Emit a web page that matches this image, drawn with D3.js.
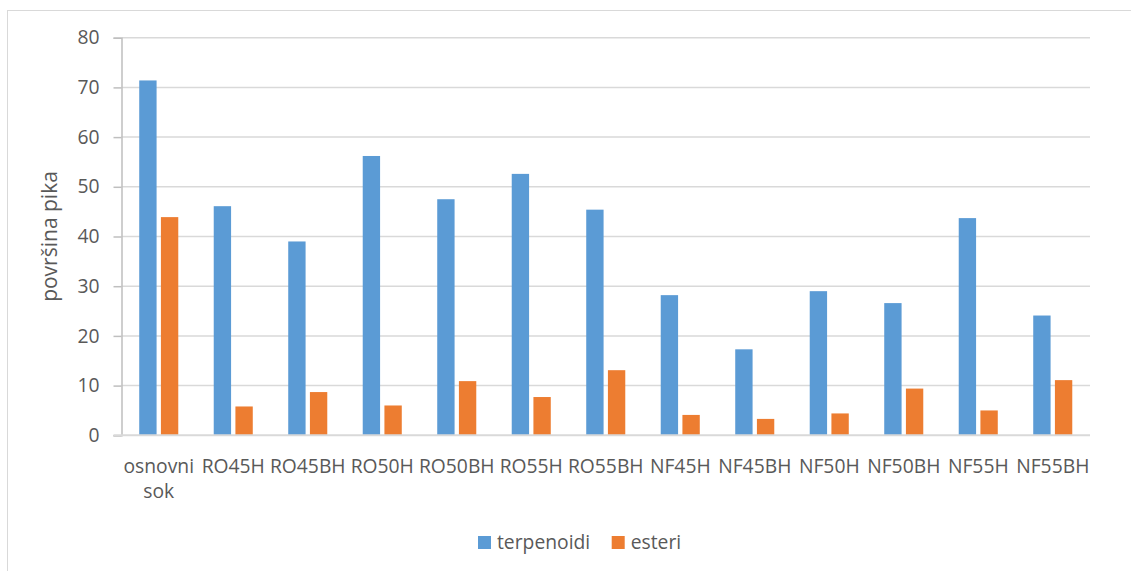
<!DOCTYPE html>
<html>
<head>
<meta charset="utf-8">
<script src="https://cdn.jsdelivr.net/npm/d3@7"></script>
<style>
  html, body { margin: 0; padding: 0; background: #ffffff; }
  svg { display: block; font-family: "Open Sans", "DejaVu Sans", sans-serif; }
</style>
</head>
<body>
<svg id="chart" width="1131" height="571"></svg>
<script>
const categories = ["osnovni sok","RO45H","RO45BH","RO50H","RO50BH","RO55H","RO55BH","NF45H","NF45BH","NF50H","NF50BH","NF55H","NF55BH"];
const seriesNames = ["terpenoidi","esteri"];
const terpenoidi = [71.4, 46.1, 39.0, 56.2, 47.5, 52.6, 45.4, 28.2, 17.3, 29.0, 26.6, 43.7, 24.1];
const esteri     = [43.9, 5.8, 8.7, 6.0, 10.9, 7.7, 13.1, 4.1, 3.3, 4.4, 9.4, 5.0, 11.1];
const yTicks = [0,10,20,30,40,50,60,70,80];
const yTitle = "površina pika";

const colors = {terpenoidi: "#5b9bd5", esteri: "#ed7d31"};
const textColor = "#595959";
const fs = 19.3;

const svg = d3.select("#chart");

// outer chart border (only left/top visible)
svg.append("rect").attr("x", 7.5).attr("y", 10.5).attr("width", 1200).attr("height", 700)
  .attr("fill", "none").attr("stroke", "#d9d9d9").attr("stroke-width", 1);

const plot = {left: 121.5, right: 1090, top: 37.7, bottom: 435.3};

const y = d3.scaleLinear().domain([0, 80]).range([plot.bottom, plot.top]);
const x0 = d3.scaleBand().domain(categories).range([plot.left, plot.right])
  .paddingInner(0.476).paddingOuter(0.238);
const x1 = d3.scaleBand().domain(seriesNames).range([0, x0.bandwidth()]).paddingInner(0.2);

// gridlines
svg.append("g").selectAll("line").data(yTicks.filter(d => d > 0)).join("line")
  .attr("x1", plot.left).attr("x2", plot.right)
  .attr("y1", d => y(d)).attr("y2", d => y(d))
  .attr("stroke", "#d9d9d9").attr("stroke-width", 1.5);

// y axis
const yAxis = d3.axisLeft(y).tickValues(yTicks).tickSize(8).tickPadding(14);
const gy = svg.append("g").attr("transform", `translate(${plot.left},0)`).call(yAxis);
gy.select(".domain").attr("stroke", "#bfbfbf").attr("stroke-width", 1.5);
gy.selectAll(".tick line").attr("stroke", "#bfbfbf").attr("stroke-width", 1.5);
gy.selectAll(".tick text").attr("fill", textColor).attr("font-size", fs)
  .attr("font-family", "'Open Sans', sans-serif");

// bars
const data = categories.map((c, i) => ({cat: c, vals: [
  {s: "terpenoidi", v: terpenoidi[i]}, {s: "esteri", v: esteri[i]}]}));
const groups = svg.append("g").selectAll("g").data(data).join("g")
  .attr("transform", d => `translate(${x0(d.cat)},0)`);
groups.selectAll("rect").data(d => d.vals).join("rect")
  .attr("x", d => x1(d.s)).attr("width", x1.bandwidth())
  .attr("y", d => y(d.v)).attr("height", d => y(0) - y(d.v))
  .attr("fill", d => colors[d.s]);

// x axis baseline
const xAxis = d3.axisBottom(x0).tickSize(0).tickPadding(0);
const gx = svg.append("g").attr("transform", `translate(0,${plot.bottom})`).call(xAxis);
gx.select(".domain").remove();
svg.append("line").attr("x1", plot.left - 8).attr("x2", plot.right)
  .attr("y1", plot.bottom).attr("y2", plot.bottom)
  .attr("stroke", "#d9d9d9").attr("stroke-width", 2);

// x labels with wrapping
gx.selectAll(".tick text").each(function(d) {
  const t = d3.select(this);
  t.text(null).attr("fill", textColor).attr("font-size", fs)
    .attr("font-family", "'Open Sans', sans-serif").attr("y", 38).attr("dy", 0);
  const words = d.split(" ");
  const maxW = x0.step() - 2;
  let lines = [], cur = [];
  const tmp = t.append("tspan");
  words.forEach(w => {
    const test = cur.concat([w]).join(" ");
    tmp.text(test);
    if (tmp.node().getComputedTextLength() > maxW && cur.length) { lines.push(cur.join(" ")); cur = [w]; }
    else cur.push(w);
  });
  lines.push(cur.join(" "));
  tmp.remove();
  lines.forEach((ln, i) => t.append("tspan").attr("x", 0).attr("y", 38 + i * 25).text(ln));
});

// y title
svg.append("text").attr("transform", `translate(57,${(plot.top + plot.bottom) / 2}) rotate(-90)`)
  .attr("text-anchor", "middle").attr("fill", textColor).attr("font-size", 21)
  .attr("font-family", "'Open Sans', sans-serif").text(yTitle);

// legend
const legendX = [478, 611.7];
const legend = svg.append("g").selectAll("g").data(seriesNames).join("g")
  .attr("transform", (d, i) => `translate(${legendX[i]},536)`);
legend.append("rect").attr("width", 13).attr("height", 13).attr("fill", d => colors[d]);
legend.append("text").attr("x", 19).attr("y", 13).attr("fill", textColor).attr("font-size", fs)
  .attr("font-family", "'Open Sans', sans-serif").text(d => d);
</script>
</body>
</html>
